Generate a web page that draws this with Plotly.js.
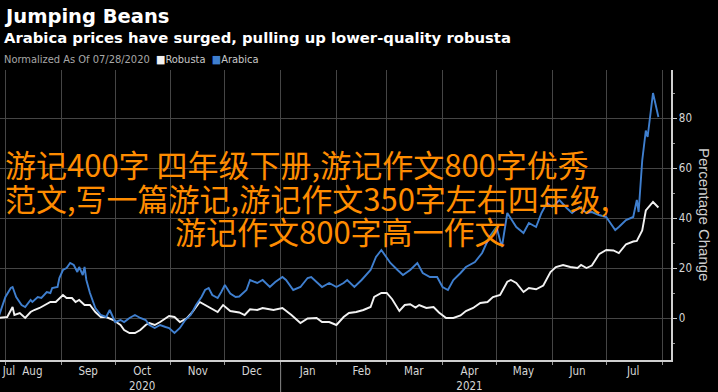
<!DOCTYPE html>
<html>
<head>
<meta charset="utf-8">
<script src="https://cdn.plot.ly/plotly-3.0.1.min.js"></script>
<style>
  html, body { margin: 0; padding: 0; background: #000; }
  #chart { width: 718px; height: 392px; }
</style>
</head>
<body>
<div id="chart"></div>
<script>
// ---- Data (percentage change, normalized as of 2020-07-28) ----
const arabicaDates = [
  '2020-07-28','2020-08-01','2020-08-04','2020-08-05','2020-08-07','2020-08-10','2020-08-12','2020-08-15',
  '2020-08-16','2020-08-19','2020-08-21','2020-08-24','2020-08-26','2020-08-27','2020-08-30','2020-08-31',
  '2020-09-02','2020-09-04','2020-09-06','2020-09-08','2020-09-10','2020-09-11','2020-09-13','2020-09-14',
  '2020-09-15','2020-09-17','2020-09-20','2020-09-23','2020-09-26','2020-09-28','2020-10-01','2020-10-04',
  '2020-10-06','2020-10-09','2020-10-12','2020-10-15','2020-10-18','2020-10-20','2020-10-23','2020-10-26',
  '2020-10-29','2020-10-31','2020-11-03','2020-11-06','2020-11-09','2020-11-12','2020-11-15','2020-11-18',
  '2020-11-20','2020-11-22','2020-11-24','2020-11-27','2020-11-29','2020-12-01','2020-12-04','2020-12-07',
  '2020-12-09','2020-12-13','2020-12-15','2020-12-19','2020-12-22','2020-12-26','2020-12-29','2021-01-02',
  '2021-01-04','2021-01-08','2021-01-12','2021-01-16','2021-01-18','2021-01-21','2021-01-24','2021-01-28',
  '2021-02-01','2021-02-05','2021-02-07','2021-02-11','2021-02-15','2021-02-20','2021-02-23','2021-02-26',
  '2021-02-28','2021-03-03','2021-03-07','2021-03-10','2021-03-14','2021-03-18','2021-03-21','2021-03-25',
  '2021-03-29','2021-04-01','2021-04-04','2021-04-07','2021-04-11','2021-04-14','2021-04-19','2021-04-23',
  '2021-04-27','2021-05-01','2021-05-04','2021-05-07','2021-05-12','2021-05-16','2021-05-19','2021-05-23',
  '2021-05-26','2021-05-29','2021-06-01','2021-06-05','2021-06-09','2021-06-12','2021-06-16','2021-06-20',
  '2021-06-23','2021-06-27','2021-07-01','2021-07-06','2021-07-08','2021-07-12','2021-07-16','2021-07-18',
  '2021-07-19','2021-07-21','2021-07-23','2021-07-24','2021-07-27','2021-07-30'
];
const arabicaValues = [
  0, 8.4, 12, 12.4, 8.4, 5.2, 4.4, 7.2,
  6.4, 8.4, 8, 10.4, 10, 12, 12.4, 16,
  19.2, 20, 22, 21.2, 18.4, 20.4, 17.2, 20.4,
  15.2, 10, 4, 1.2, 0.4, 3.2, -1.6, -0.8,
  -1.6, 0, 1.2, 0, -0.8, -2.8, -4, -2.8,
  -3.6, -4, -6, -4, -0.8, 1.2, 5.2, 8.4,
  11.2, 12, 9.2, 8, 10.4, 13.2, 9.8, 8.4,
  8.6, 11.2, 15.2, 14, 15.2, 12.4, 14.4, 16.4,
  15.2, 11.2, 12.4, 16, 16.4, 14.4, 12.4, 14,
  12.4, 14, 15.2, 12.4, 15.2, 19.2, 24.4, 27.2,
  25.2, 22, 19.2, 17.2, 19.2, 22, 18, 16.4,
  16.4, 12.4, 11.2, 15.2, 18, 20.4, 22.4, 26,
  32.4, 36.4, 28.4, 42, 36.4, 34, 38, 36.4,
  42, 46, 44.4, 47.2, 44, 42, 44.4, 42,
  42.4, 41.2, 40.4, 35.2, 36.4, 39.2, 40.4, 47.2,
  42.4, 63, 75, 72.4, 90, 80.4
];

const robustaDates = [
  '2020-07-28','2020-08-02','2020-08-05','2020-08-06','2020-08-09','2020-08-12','2020-08-15','2020-08-17',
  '2020-08-20','2020-08-23','2020-08-26','2020-08-29','2020-08-31','2020-09-02','2020-09-04','2020-09-07',
  '2020-09-09','2020-09-11','2020-09-14','2020-09-17','2020-09-20','2020-09-23','2020-09-26','2020-09-30',
  '2020-10-04','2020-10-06','2020-10-09','2020-10-12','2020-10-15','2020-10-18','2020-10-20','2020-10-23',
  '2020-10-26','2020-10-29','2020-10-31','2020-11-03','2020-11-06','2020-11-10','2020-11-13','2020-11-17',
  '2020-11-20','2020-11-23','2020-11-27','2020-11-30','2020-12-04','2020-12-09','2020-12-12','2020-12-15',
  '2020-12-19','2020-12-22','2020-12-28','2021-01-02','2021-01-07','2021-01-12','2021-01-16','2021-01-21',
  '2021-01-24','2021-01-28','2021-02-01','2021-02-05','2021-02-08','2021-02-12','2021-02-16','2021-02-20',
  '2021-02-22','2021-02-26','2021-03-01','2021-03-04','2021-03-08','2021-03-11','2021-03-14','2021-03-17',
  '2021-03-19','2021-03-23','2021-03-27','2021-03-30','2021-04-03','2021-04-07','2021-04-11','2021-04-14',
  '2021-04-18','2021-04-22','2021-04-26','2021-04-29','2021-05-03','2021-05-07','2021-05-09','2021-05-12',
  '2021-05-16','2021-05-19','2021-05-23','2021-05-27','2021-05-31','2021-06-03','2021-06-07','2021-06-11',
  '2021-06-15','2021-06-17','2021-06-20','2021-06-23','2021-06-27','2021-07-01','2021-07-05','2021-07-08',
  '2021-07-12','2021-07-16','2021-07-18','2021-07-21','2021-07-23','2021-07-27','2021-07-30'
];
const robustaValues = [
  0, 0.4, 4.4, 1.2, 2, 0, 2.4, 3.2,
  4, 5.2, 6.4, 6.4, 8, 9.2, 8, 8,
  6.4, 7.2, 5.2, 5.2, 2.4, 0.4, 0.4, -0.8,
  -2.8, -4.8, -6, -6, -4.8, -2.8, -2, -2.8,
  -1.6, 0, 0.8, 0.4, -1.6, 0, 2.4, 6.4,
  5.2, 4, 2.4, 5.2, 2.8, 2.2, 1.2, 3.5,
  3.2, 4, 3.2, 4, 1.2, -2, -0.2, 0,
  -1.6, -1.6, -2.8, 0.4, 2, 2.4, 3.2, 4.4,
  8.4, 10, 10, 7.5, 2.8, 5.2, 5.5, 4.2,
  5.2, 4, 4.4, 2.2, 0, 0, 1, 2.8,
  4, 6, 6.4, 8.4, 9.2, 14.5, 15.2, 14,
  10.4, 12, 11.5, 13, 18.4, 20.4, 21.2, 20.4,
  20, 21.2, 20, 21, 25.5, 27.2, 27, 26,
  29.5, 30.6, 30.8, 35, 43, 46.4, 44.2
];

// Axis labels
const tickDates  = ['2020-08-03','2020-08-16','2020-09-16','2020-10-16','2020-11-16','2020-12-16',
                    '2021-01-16','2021-02-15','2021-03-16','2021-04-16','2021-05-16','2021-06-15','2021-07-16'];
const tickLabels = ['Jul','Aug','Sep','Oct<br>2020','Nov','Dec','Jan','Feb','Mar','Apr<br>2021','May','Jun','Jul'];
const monthStarts = ['2020-08-01','2020-09-01','2020-10-01','2020-11-01','2020-12-01','2021-01-01',
                     '2021-02-01','2021-03-01','2021-04-01','2021-05-01','2021-06-01','2021-07-01','2021-08-01'];
const yTicks = [0, 20, 40, 60, 80];

const titleText = 'Jumping Beans';
const subtitleText = 'Arabica prices have surged, pulling up lower-quality robusta';
const overlayLines = [
  '游记400字 四年级下册,游记作文800字优秀',
  '范文,写一篇游记,游记作文350字左右四年级,',
  '游记作文800字高一作文'
];

const BLUE = '#3f7fcf';
const WHITE = '#f2f2f2';
const ORANGE = '#ff8c00';
const GRID = '#454545';

// Plot area: x 0..671, y 70..360
const PW = 671, PT = 70, PB = 360, PH = PB - PT;
const px = v => v / PW;
const py = v => (PB - v) / PH;
const XRANGE = ['2020-07-29', '2021-08-06'];

const traces = [
  { x: robustaDates, y: robustaValues, type: 'scatter', mode: 'lines', name: 'Robusta',
    line: { color: WHITE, width: 1.9 }, hoverinfo: 'skip' },
  { x: arabicaDates, y: arabicaValues, type: 'scatter', mode: 'lines', name: 'Arabica',
    line: { color: BLUE, width: 1.9 }, hoverinfo: 'skip' }
];

const tickFont = { family: 'DejaVu Sans Condensed, DejaVu Sans, sans-serif', size: 11.5, color: '#d6d6d6' };

const layout = {
  width: 718, height: 392,
  margin: { l: 0, r: 718 - PW, t: PT, b: 392 - PB, pad: 0 },
  paper_bgcolor: '#000', plot_bgcolor: '#000',
  showlegend: false,
  xaxis: {
    type: 'date', range: XRANGE,
    tickmode: 'array', tickvals: tickDates, ticktext: tickLabels,
    ticks: '', showgrid: false, zeroline: false,
    showline: true, linecolor: '#cfcfcf', linewidth: 1.5,
    tickfont: tickFont, ticklabeloverflow: 'allow',
    minor: { tickmode: 'array', tickvals: monthStarts, showgrid: true,
             gridcolor: GRID, gridwidth: 1,
             ticks: 'outside', ticklen: 3, tickcolor: '#9a9a9a' },
    fixedrange: true
  },
  yaxis: {
    side: 'right', range: [-16.8, 99.2],
    tickmode: 'array', tickvals: yTicks,
    ticks: 'outside', ticklen: 4, tickcolor: '#cfcfcf',
    showline: true, linecolor: '#cfcfcf', linewidth: 1.5,
    showgrid: true, gridcolor: GRID, gridwidth: 1,
    zeroline: false, tickfont: tickFont,
    minor: { tickmode: 'linear', tick0: 0, dtick: 10, ticks: 'outside', ticklen: 2,
             tickcolor: '#9a9a9a', showgrid: false },
    fixedrange: true
  },
  shapes: [
    { type: 'line', xref: 'x', yref: 'paper', x0: '2021-01-01', x1: '2021-01-01',
      y0: py(365), y1: py(392), line: { color: '#8a8a8a', width: 1 } }
  ],
  annotations: [
    { text: titleText, xref: 'paper', yref: 'paper', x: px(2), y: py(16),
      xanchor: 'left', yanchor: 'middle', showarrow: false,
      font: { family: 'DejaVu Sans, sans-serif', size: 19.5, color: '#ffffff', weight: 'bold' } },
    { text: subtitleText, xref: 'paper', yref: 'paper', x: px(2), y: py(37),
      xanchor: 'left', yanchor: 'middle', showarrow: false,
      font: { family: 'DejaVu Sans, sans-serif', size: 14.8, color: '#ffffff', weight: 'bold' } },
    { text: 'Normalized As Of 07/28/2020  <span style="color:' + WHITE + '">■</span><span style="color:#c8c8c8">Robusta</span>  <span style="color:' + BLUE + '">■</span><span style="color:#c8c8c8">Arabica</span>',
      xref: 'paper', yref: 'paper', x: px(2), y: py(60),
      xanchor: 'left', yanchor: 'middle', showarrow: false,
      font: { family: 'DejaVu Sans Condensed, DejaVu Sans, sans-serif', size: 11, color: '#a8a8a8' } },
    { text: 'Percentage Change', xref: 'paper', yref: 'paper', x: px(705), y: py(215),
      xanchor: 'center', yanchor: 'middle', showarrow: false, textangle: 90,
      font: { family: 'Liberation Sans, Arial, sans-serif', size: 15, color: '#cfcfcf' } },
    { text: overlayLines[0], xref: 'paper', yref: 'paper', x: px(3), y: py(163),
      xanchor: 'left', yanchor: 'middle', showarrow: false,
      font: { family: 'Noto Sans CJK SC, sans-serif', size: 31, color: ORANGE } },
    { text: overlayLines[1], xref: 'paper', yref: 'paper', x: px(3), y: py(197),
      xanchor: 'left', yanchor: 'middle', showarrow: false,
      font: { family: 'Noto Sans CJK SC, sans-serif', size: 31, color: ORANGE } },
    { text: overlayLines[2], xref: 'paper', yref: 'paper', x: px(340), y: py(230),
      xanchor: 'center', yanchor: 'middle', showarrow: false,
      font: { family: 'Noto Sans CJK SC, sans-serif', size: 31, color: ORANGE } }
  ]
};

Plotly.newPlot('chart', traces, layout, { staticPlot: true, displayModeBar: false });
</script>
</body>
</html>
